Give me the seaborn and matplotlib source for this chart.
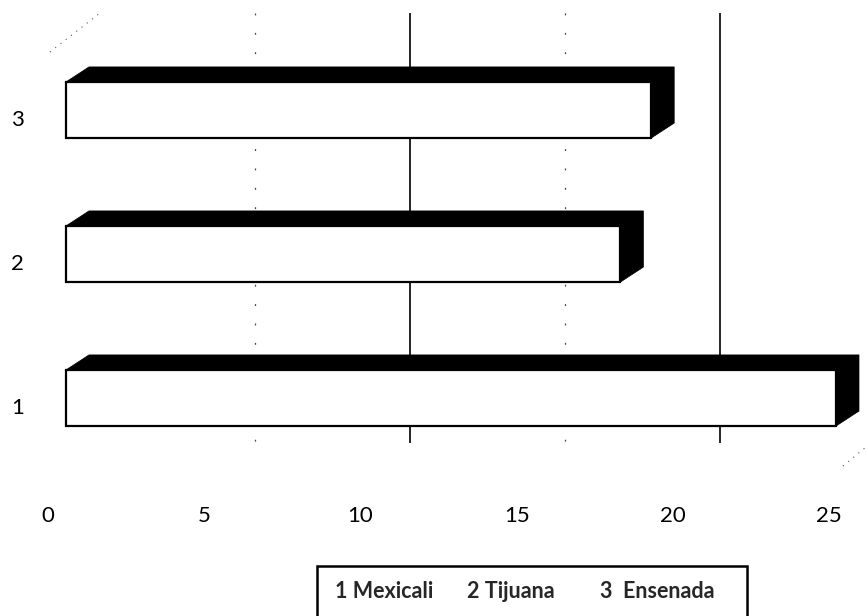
import pandas as pd
import matplotlib
matplotlib.use("Agg")
import matplotlib.pyplot as plt
import matplotlib.transforms as mtransforms
from matplotlib.patches import Polygon, Rectangle
import seaborn as sns

# data
categories = ["3", "2", "1"]
values = [19, 18, 25]
x_ticks = [0, 5, 10, 15, 20, 25]
grid_solid = [10, 20]
grid_dotted = [5, 15]
legend_labels = ["1 Mexicali", "2 Tijuana", "3  Ensenada"]

sns.set_style("white")
plt.rcParams["font.family"] = ["Lato", "DejaVu Sans"]

W, H = 866, 616
fig = plt.figure(figsize=(W / 100, H / 100), dpi=100)

# pixel layout of the front face of the bars
x0_px, px_x = 66, 30.8
y0_px, px_y = 110, 144
left_px, bottom_px = 30, 470
depth_x, depth_y = 23 / px_x, 15 / px_y

ax = fig.add_axes([left_px / W, (H - bottom_px) / H, (W - left_px) / W, bottom_px / H])

df = pd.DataFrame({"ciudad": categories, "valor": values})
sns.barplot(data=df, x="valor", y="ciudad", order=categories, orient="h",
            width=0.39, color="white", edgecolor="black", linewidth=1.6,
            saturation=1, ax=ax)

ax.set_xlim((left_px - x0_px) / px_x, (W - x0_px) / px_x)
ax.set_ylim((bottom_px - y0_px) / px_y, -y0_px / px_y)
ax.set_xlabel("")
ax.set_ylabel("")
for s in ax.spines.values():
    s.set_visible(False)
ax.patch.set_alpha(0)

# 3D depth: black top and side of each bar
for p in list(ax.patches):
    x, w = p.get_x(), p.get_width()
    top, bot = p.get_y(), p.get_y() + p.get_height()
    shadow = Polygon([(x, top), (x + depth_x, top - depth_y),
                      (x + w + depth_x, top - depth_y),
                      (x + w + depth_x, bot - depth_y),
                      (x + w, bot), (x, bot)],
                     closed=True, facecolor="black", edgecolor="black",
                     lw=0.5, zorder=2)
    ax.add_patch(shadow)
    p.set_zorder(3)

# back wall gridlines
def back_to_front(v):
    return (100 - x0_px + 31.0 * v) / px_x

g_top, g_bot = (13 - y0_px) / px_y, (443 - y0_px) / px_y
ax.vlines([back_to_front(v) for v in grid_solid], g_top, g_bot,
          color="black", lw=1.2, zorder=1)
ax.vlines([back_to_front(v) for v in grid_dotted], g_top, g_bot,
          color="#444444", lw=0.9, linestyles=(0, (1.5, 14)), zorder=1)

# faint box edges
def px2d(px, py):
    return (px - x0_px) / px_x, (py - y0_px) / px_y

a, b = px2d(50, 52), px2d(100, 13)
ax.plot([a[0], b[0]], [a[1], b[1]], color="#555555", lw=0.8, ls=(0, (1, 5)),
        clip_on=False)
a, b = px2d(843, 466), px2d(866, 447)
ax.plot([a[0], b[0]], [a[1], b[1]], color="#555555", lw=0.8, ls=(0, (1, 5)),
        clip_on=False)

# axis labels
ax.set_xticks([])
ax.tick_params(axis="y", length=0, pad=4.5, labelsize=16, labelcolor="black")
offset = mtransforms.ScaledTranslation(0, -8 / 100, fig.dpi_scale_trans)
for lab in ax.get_yticklabels():
    lab.set_transform(lab.get_transform() + offset)

def fwd(v):
    return (x0_px + px_x * v - 48) / 31.24

def inv(u):
    return (48 + 31.24 * u - x0_px) / px_x

sec = ax.secondary_xaxis("bottom", functions=(fwd, inv))
sec.set_xticks(x_ticks)
sec.tick_params(length=0, pad=26, labelsize=16, labelcolor="black")
sec.spines["bottom"].set_visible(False)

# legend box
fig.add_artist(Rectangle((317 / W, -0.02), 430 / W, (616 - 566) / H + 0.02,
                         transform=fig.transFigure, fill=False,
                         edgecolor="black", lw=1.8))
for lab, xp in zip(legend_labels, [335, 467, 600]):
    fig.text(xp / W, (H - 591) / H, lab, fontsize=15.5, fontweight="bold",
             ha="left", va="center")

fig.savefig("out.png", dpi=100)
